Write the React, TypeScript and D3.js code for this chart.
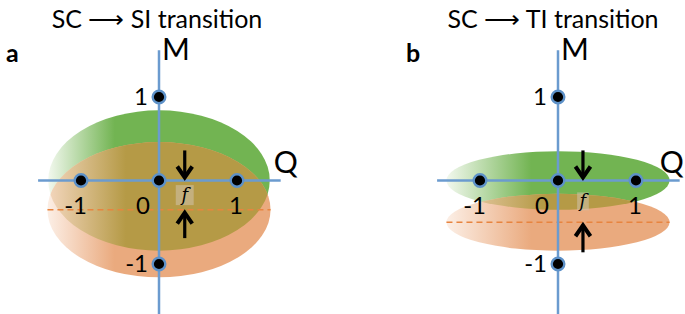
import React, { useRef, useEffect } from "react";
import * as d3 from "d3";

// chart content
const panelLetters = ["a", "b"];
const panelTitles = ["SC \u27F6 SI transition", "SC \u27F6 TI transition"];
const ticks = [-1, 0, 1];
const axisNames = ["Q", "M"];
// ellipses in (Q, M) units
const greenCenterM = [0, 0];
const greenRadiusQ = [1.42, 1.43];
const greenRadiusM = [0.84, 0.35];
const orangeCenterM = [-0.35, -0.5];
const orangeRadiusQ = [1.43, 1.43];
const orangeRadiusM = [0.81, 0.34];
// arrows around the f marker
const arrowQ = [0.33, 0.32];
const arrowTopM = [0.36, 0.36];
const arrowBottomM = [-0.69, -0.86];
const fBoxWidthQ = [0.23, 0.15];

const FONT = "Lato, 'Open Sans', sans-serif";

const App = () => {
  const svgRef = useRef<SVGSVGElement>(null);

  useEffect(() => {
    const w = 685;
    const h = 314;
    const svg = d3.select(svgRef.current).attr("width", w).attr("height", h);
    svg.selectAll("*").remove();

    const defs = svg.append("defs");
    const grad = (id, c0, c1, stop) => {
      const g = defs
        .append("linearGradient")
        .attr("id", id)
        .attr("x1", 0)
        .attr("x2", 1)
        .attr("y1", 0)
        .attr("y2", 0);
      g.append("stop").attr("offset", 0).attr("stop-color", c0);
      g.append("stop").attr("offset", stop).attr("stop-color", c1);
      g.append("stop").attr("offset", 1).attr("stop-color", c1);
    };

    const panelShift = [0, 399];
    const qLabelDx = [-7, -20];

    panelLetters.forEach((letter, i) => {
      const x = d3.scaleLinear().domain([-1, 1]).range([81, 237]);
      const y = d3.scaleLinear().domain([-1, 1]).range([264, 97]);
      const fade = i === 0 ? 0.3 : 0.38;
      grad(`green${i}`, "#f2f8ee", "#72b452", fade);
      grad(`orange${i}`, "#fcefe6", "#eaaa7e", fade);
      grad(`olive${i}`, "#f3d6bd", "#b59a46", fade + 0.05);

      const g = svg.append("g").attr("transform", `translate(${panelShift[i]},0)`);

      const ell = (sel, cm, rq, rm) =>
        sel
          .attr("cx", x(0))
          .attr("cy", y(cm))
          .attr("rx", x(rq) - x(0))
          .attr("ry", y(0) - y(rm));

      ell(g.append("ellipse"), greenCenterM[i], greenRadiusQ[i], greenRadiusM[i]).attr(
        "fill",
        `url(#green${i})`
      );
      ell(g.append("ellipse"), orangeCenterM[i], orangeRadiusQ[i], orangeRadiusM[i]).attr(
        "fill",
        `url(#orange${i})`
      );
      const clip = defs.append("clipPath").attr("id", `clipO${i}`);
      ell(clip.append("ellipse"), orangeCenterM[i], orangeRadiusQ[i], orangeRadiusM[i]);
      ell(g.append("ellipse"), greenCenterM[i], greenRadiusQ[i], greenRadiusM[i])
        .attr("fill", `url(#olive${i})`)
        .attr("clip-path", `url(#clipO${i})`);

      // dashed line through orange centre
      g.append("line")
        .attr("x1", x(-orangeRadiusQ[i]))
        .attr("x2", x(orangeRadiusQ[i]))
        .attr("y1", y(orangeCenterM[i]))
        .attr("y2", y(orangeCenterM[i]))
        .attr("stroke", "#e8843f")
        .attr("stroke-width", 1.5)
        .attr("stroke-dasharray", "6,4");

      // axes
      const axisColor = "#6b9bcf";
      g.append("line")
        .attr("x1", x(-1.55))
        .attr("x2", x(1.56))
        .attr("y1", y(0))
        .attr("y2", y(0))
        .attr("stroke", axisColor)
        .attr("stroke-width", 2.5);
      g.append("line")
        .attr("x1", x(0))
        .attr("x2", x(0))
        .attr("y1", y(1.56))
        .attr("y2", y(-1.7))
        .attr("stroke", axisColor)
        .attr("stroke-width", 2.5);

      // tick labels
      ticks.forEach((t) => {
        g.append("text")
          .attr("x", t === 0 ? x(0) - 9 : x(t) + 6)
          .attr("y", y(0) + 33)
          .attr("text-anchor", "end")
          .attr("font-family", FONT)
          .attr("font-size", 24)
          .text(t);
        if (t !== 0) {
          g.append("text")
            .attr("x", x(0) - 11)
            .attr("y", y(t) + 8)
            .attr("text-anchor", "end")
            .attr("font-family", FONT)
            .attr("font-size", 24)
            .text(t);
        }
      });

      // dots
      const pts = ticks.map((t) => [t, 0]).concat([[0, 1], [0, -1]]);
      g.selectAll(".dot")
        .data(pts)
        .enter()
        .append("circle")
        .attr("cx", (d) => x(d[0]))
        .attr("cy", (d) => y(d[1]))
        .attr("r", 6.3)
        .attr("fill", "#000")
        .attr("stroke", "#5d91c8")
        .attr("stroke-width", 2.4);

      // f marker
      const fM = orangeCenterM[i] / 2;
      const bw = x(fBoxWidthQ[i]) - x(0);
      const bh = i === 0 ? 20 : 18;
      g.append("rect")
        .attr("x", x(arrowQ[i]) - bw / 2)
        .attr("y", y(fM) - bh / 2)
        .attr("width", bw)
        .attr("height", bh)
        .attr("fill", "#cfc3ad")
        .attr("opacity", 0.55);
      g.append("text")
        .attr("x", x(arrowQ[i]))
        .attr("y", y(fM) + 6)
        .attr("text-anchor", "middle")
        .attr("font-family", "'DejaVu Serif', serif")
        .attr("font-style", "italic")
        .attr("font-size", 18)
        .text("f");

      // arrows
      const arrow = (x0, yFrom, yTo) => {
        const dir = yTo > yFrom ? 1 : -1;
        g.append("line")
          .attr("x1", x0)
          .attr("x2", x0)
          .attr("y1", yFrom)
          .attr("y2", yTo - dir * 3)
          .attr("stroke", "#000")
          .attr("stroke-width", 3.2);
        g.append("path")
          .attr(
            "d",
            `M${x0 - 7.5},${yTo - dir * 13} L${x0},${yTo - dir * 2} L${x0 + 7.5},${yTo - dir * 13}`
          )
          .attr("fill", "none")
          .attr("stroke", "#000")
          .attr("stroke-width", 4);
      };
      arrow(x(arrowQ[i]), y(arrowTopM[i]), y(0) - 1);
      arrow(x(arrowQ[i]), y(arrowBottomM[i]), y(orangeCenterM[i]) + 1);

      // axis names
      g.append("text")
        .attr("x", x(1.56) + qLabelDx[i])
        .attr("y", y(0) - 8)
        .attr("font-family", FONT)
        .attr("font-size", 30)
        .text(axisNames[0]);
      g.append("text")
        .attr("x", x(0) + 3)
        .attr("y", 60)
        .attr("font-family", FONT)
        .attr("font-size", 30)
        .text(axisNames[1]);

      // panel letter and title
      g.append("text")
        .attr("x", i === 0 ? 6 : 7)
        .attr("y", 62)
        .attr("font-family", FONT)
        .attr("font-weight", "bold")
        .attr("font-size", 25)
        .text(letter);
      g.append("text")
        .attr("x", i === 0 ? 157 : 154)
        .attr("y", 28)
        .attr("text-anchor", "middle")
        .attr("font-family", FONT)
        .attr("font-size", 25)
        .text(panelTitles[i]);
    });
  }, []);

  return (
    <svg
      ref={svgRef}
      style={{ position: "absolute", left: 0, top: 0, background: "#fff", display: "block" }}
    ></svg>
  );
};

export default App;
